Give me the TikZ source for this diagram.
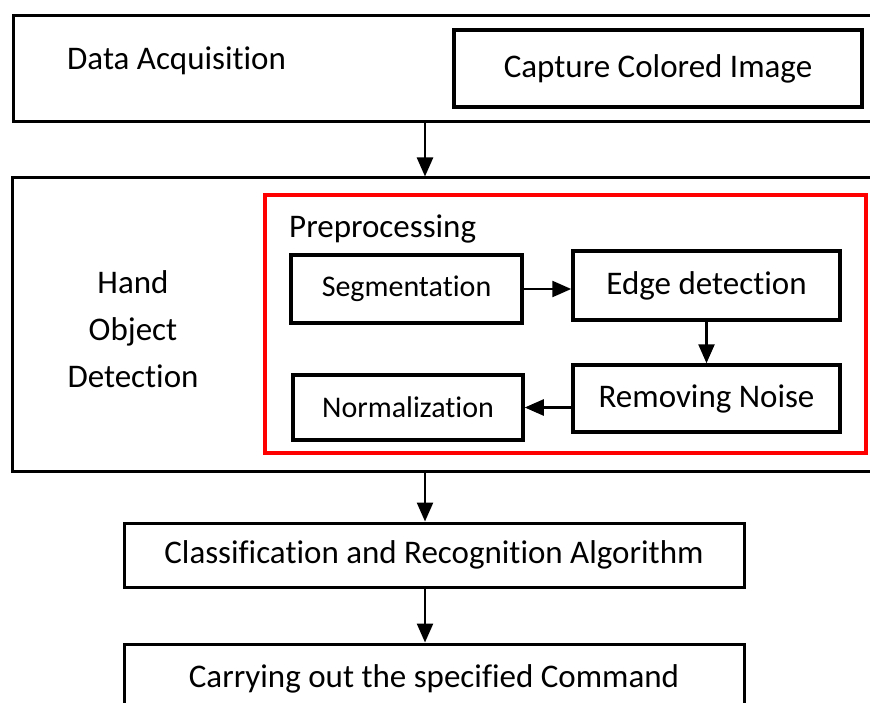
\documentclass[tikz,border=0pt]{standalone}
\usepackage{fontspec}
\setmainfont{Carlito}[Ligatures=NoCommon]
\usetikzlibrary{arrows.meta}

\begin{document}
\begin{tikzpicture}
  [x=1pt, y=-1pt,
   stage/.style={
    draw=black,
    fill=white,
    rectangle,
    line width=3pt,
    inner sep=0pt,
    font=\fontsize{33}{47}\selectfont}, task/.style={
    draw=black,
    fill=white,
    rectangle,
    line width=3.5pt,
    inner sep=0pt,
    font=\fontsize{33}{47}\selectfont}, prep/.style={
    draw=red,
    fill=white,
    rectangle,
    line width=4pt,
    inner sep=0pt}, label/.style={
    inner sep=0pt,
    font=\fontsize{33}{47}\selectfont}, flow/.style={
    line width=2.5pt,
    -{Triangle[width=16pt,length=19pt]}}]

  \clip (0,0) rectangle (870,703);

  \node [stage, minimum width=887pt, minimum height=106pt] at (456.5,69) (acq) {};
  \node [label, anchor=base west] at (67,70) (acqtext) {Data Acquisition};
  \node [task, minimum width=408pt, minimum height=77pt] at (658,68.5) (capture) {\raisebox{2pt}{Capture Colored Image}};

  \node [stage, minimum width=888pt, minimum height=293pt] at (456,324.5) (hand) {};
  \node [label, align=center] at (133,329) (handtext) {Hand\\Object\\Detection};

  \node [prep, minimum width=601pt, minimum height=258pt] at (565.5,324) (pre) {};
  \node [label, anchor=base west] at (289,238) (pretext) {Preprocessing};

  \node [task, minimum width=231pt, minimum height=68pt, font=\fontsize{30}{36}\selectfont] at (406.5,289) (seg) {Segmentation};
  \node [task, minimum width=267pt, minimum height=69pt] at (706.5,285.5) (edge) {Edge detection};
  \node [task, minimum width=267pt, minimum height=67pt] at (706.5,398.5) (noise) {Removing Noise};
  \node [task, minimum width=230pt, minimum height=65pt, font=\fontsize{30}{36}\selectfont] at (408,407.5) (norm) {Normalization};

  \node [stage, minimum width=620pt, minimum height=64pt] at (434,555) (classif) {\raisebox{-3pt}{Classification and Recognition Algorithm}};
  \node [stage, minimum width=620pt, minimum height=70pt] at (434,679) (command) {Carrying out the specified Command};

  \coordinate (spine) at (425,0);

  \draw [flow] (acq.south -| spine) -- (hand.north -| spine);
  \draw [flow] (seg.east) -- (seg.east -| edge.west);
  \draw [flow] (edge.south) -- (noise.north);
  \draw [flow] (noise.west |- norm.east) -- (norm.east);
  \draw [flow] (hand.south -| spine) -- (classif.north -| spine);
  \draw [flow] (classif.south -| spine) -- (command.north -| spine);
\end{tikzpicture}
\end{document}
